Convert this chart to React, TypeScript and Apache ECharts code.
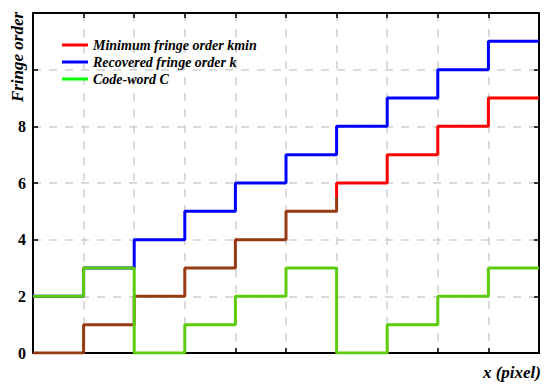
import React, { useEffect, useRef } from "react";
import * as echarts from "echarts";

const xBreaks = [0, 1, 2, 3, 4, 5, 6, 7, 8, 9, 10];
const kminValues = [0, 1, 2, 3, 4, 5, 6, 7, 8, 9];
const kValues = [2, 3, 4, 5, 6, 7, 8, 9, 10, 11];
const codeValues = [2, 3, 0, 1, 2, 3, 0, 1, 2, 3];
const yTickLabels = ["0", "2", "4", "6", "8"];
const seriesNames = ["Minimum fringe order kmin", "Recovered fringe order k", "Code-word C"];

const SERIF = "'Liberation Serif', 'Times New Roman', serif";

function toSteps(vals: number[]) {
  const pts = vals.map((v, i) => [xBreaks[i], v]);
  pts.push([xBreaks[vals.length], vals[vals.length - 1]]);
  return pts;
}

export default function App() {
  const ref = useRef<HTMLDivElement>(null);
  useEffect(() => {
    document.body.style.margin = "0";
    const chart = echarts.init(ref.current!, null, { renderer: "svg" });
    const H = 389;
    const grid = { left: 33, top: 13, right: 11, bottom: 36 };
    const splitY = 197 / H;
    const redGradient = new echarts.graphic.LinearGradient(
      0, 0, 0, H,
      [
        { offset: 0, color: "#ff0000" },
        { offset: splitY, color: "#ff0000" },
        { offset: splitY, color: "#963a12" },
        { offset: 1, color: "#963a12" },
      ],
      true
    );
    const tickCommon = { show: true, inside: true, length: 5, lineStyle: { color: "#000", width: 1.5 } };
    chart.setOption({
      animation: false,
      backgroundColor: "#fff",
      grid,
      legend: {
        orient: "vertical",
        left: 57,
        top: 33,
        itemWidth: 26,
        itemHeight: 3,
        itemGap: 3,
        icon: "rect",
        textStyle: { fontFamily: SERIF, fontWeight: "bold", fontStyle: "italic", fontSize: 14, color: "#000" },
        data: [
          { name: seriesNames[0], itemStyle: { color: "#ff0000" } },
          { name: seriesNames[1], itemStyle: { color: "#0000ff" } },
          { name: seriesNames[2], itemStyle: { color: "#00ff00" } },
        ],
      },
      xAxis: [
        {
          type: "value",
          min: 0,
          max: 10,
          interval: 1,
          axisLine: { show: true, lineStyle: { color: "#000", width: 2 } },
          axisTick: tickCommon,
          axisLabel: { show: false },
          splitLine: { show: true, lineStyle: { color: "#cfcfcf", type: [8, 8], width: 1.5 } },
        },
        {
          type: "value",
          position: "top",
          min: 0,
          max: 10,
          interval: 1,
          axisLine: { show: true, onZero: false, lineStyle: { color: "#000", width: 2 } },
          axisTick: tickCommon,
          axisLabel: { show: false },
          splitLine: { show: false },
        },
      ],
      yAxis: [
        {
          type: "value",
          min: 0,
          max: 12,
          interval: 2,
          axisLine: { show: true, lineStyle: { color: "#000", width: 2 } },
          axisTick: tickCommon,
          axisLabel: {
            margin: 7,
            fontFamily: SERIF,
            fontWeight: "bold",
            fontSize: 16,
            color: "#000",
            formatter: (v: number) => (yTickLabels.includes(String(v)) ? String(v) : ""),
          },
          splitLine: { show: true, lineStyle: { color: "#cfcfcf", type: [8, 8], width: 1.5 } },
        },
        {
          type: "value",
          position: "right",
          min: 0,
          max: 12,
          interval: 2,
          axisLine: { show: true, onZero: false, lineStyle: { color: "#000", width: 2 } },
          axisTick: tickCommon,
          axisLabel: { show: false },
          splitLine: { show: false },
        },
      ],
      series: [
        {
          name: seriesNames[0],
          type: "line",
          step: "end",
          data: toSteps(kminValues),
          showSymbol: false,
          color: "#ff0000",
          lineStyle: { width: 3, color: redGradient },
          z: 2,
        },
        {
          name: seriesNames[1],
          type: "line",
          step: "end",
          data: toSteps(kValues),
          showSymbol: false,
          color: "#0000ff",
          lineStyle: { width: 3, color: "#0000ff" },
          z: 3,
        },
        {
          name: seriesNames[2],
          type: "line",
          step: "end",
          data: toSteps(codeValues),
          showSymbol: false,
          color: "#5ccc0a",
          lineStyle: { width: 3, color: "#5ccc0a" },
          z: 4,
        },
      ],
      graphic: [
        {
          type: "text",
          x: 17,
          y: 57,
          rotation: Math.PI / 2,
          style: {
            text: "Fringe order",
            font: `italic bold 17px ${SERIF}`,
            fill: "#000",
            align: "center",
            verticalAlign: "middle",
          },
        },
        {
          type: "text",
          x: 541,
          y: 372,
          style: {
            text: "x (pixel)",
            font: `italic bold 17px ${SERIF}`,
            fill: "#000",
            align: "right",
            verticalAlign: "middle",
          },
        },
      ],
    });
    return () => chart.dispose();
  }, []);
  return <div ref={ref} style={{ width: 550, height: 389 }} />;
}
